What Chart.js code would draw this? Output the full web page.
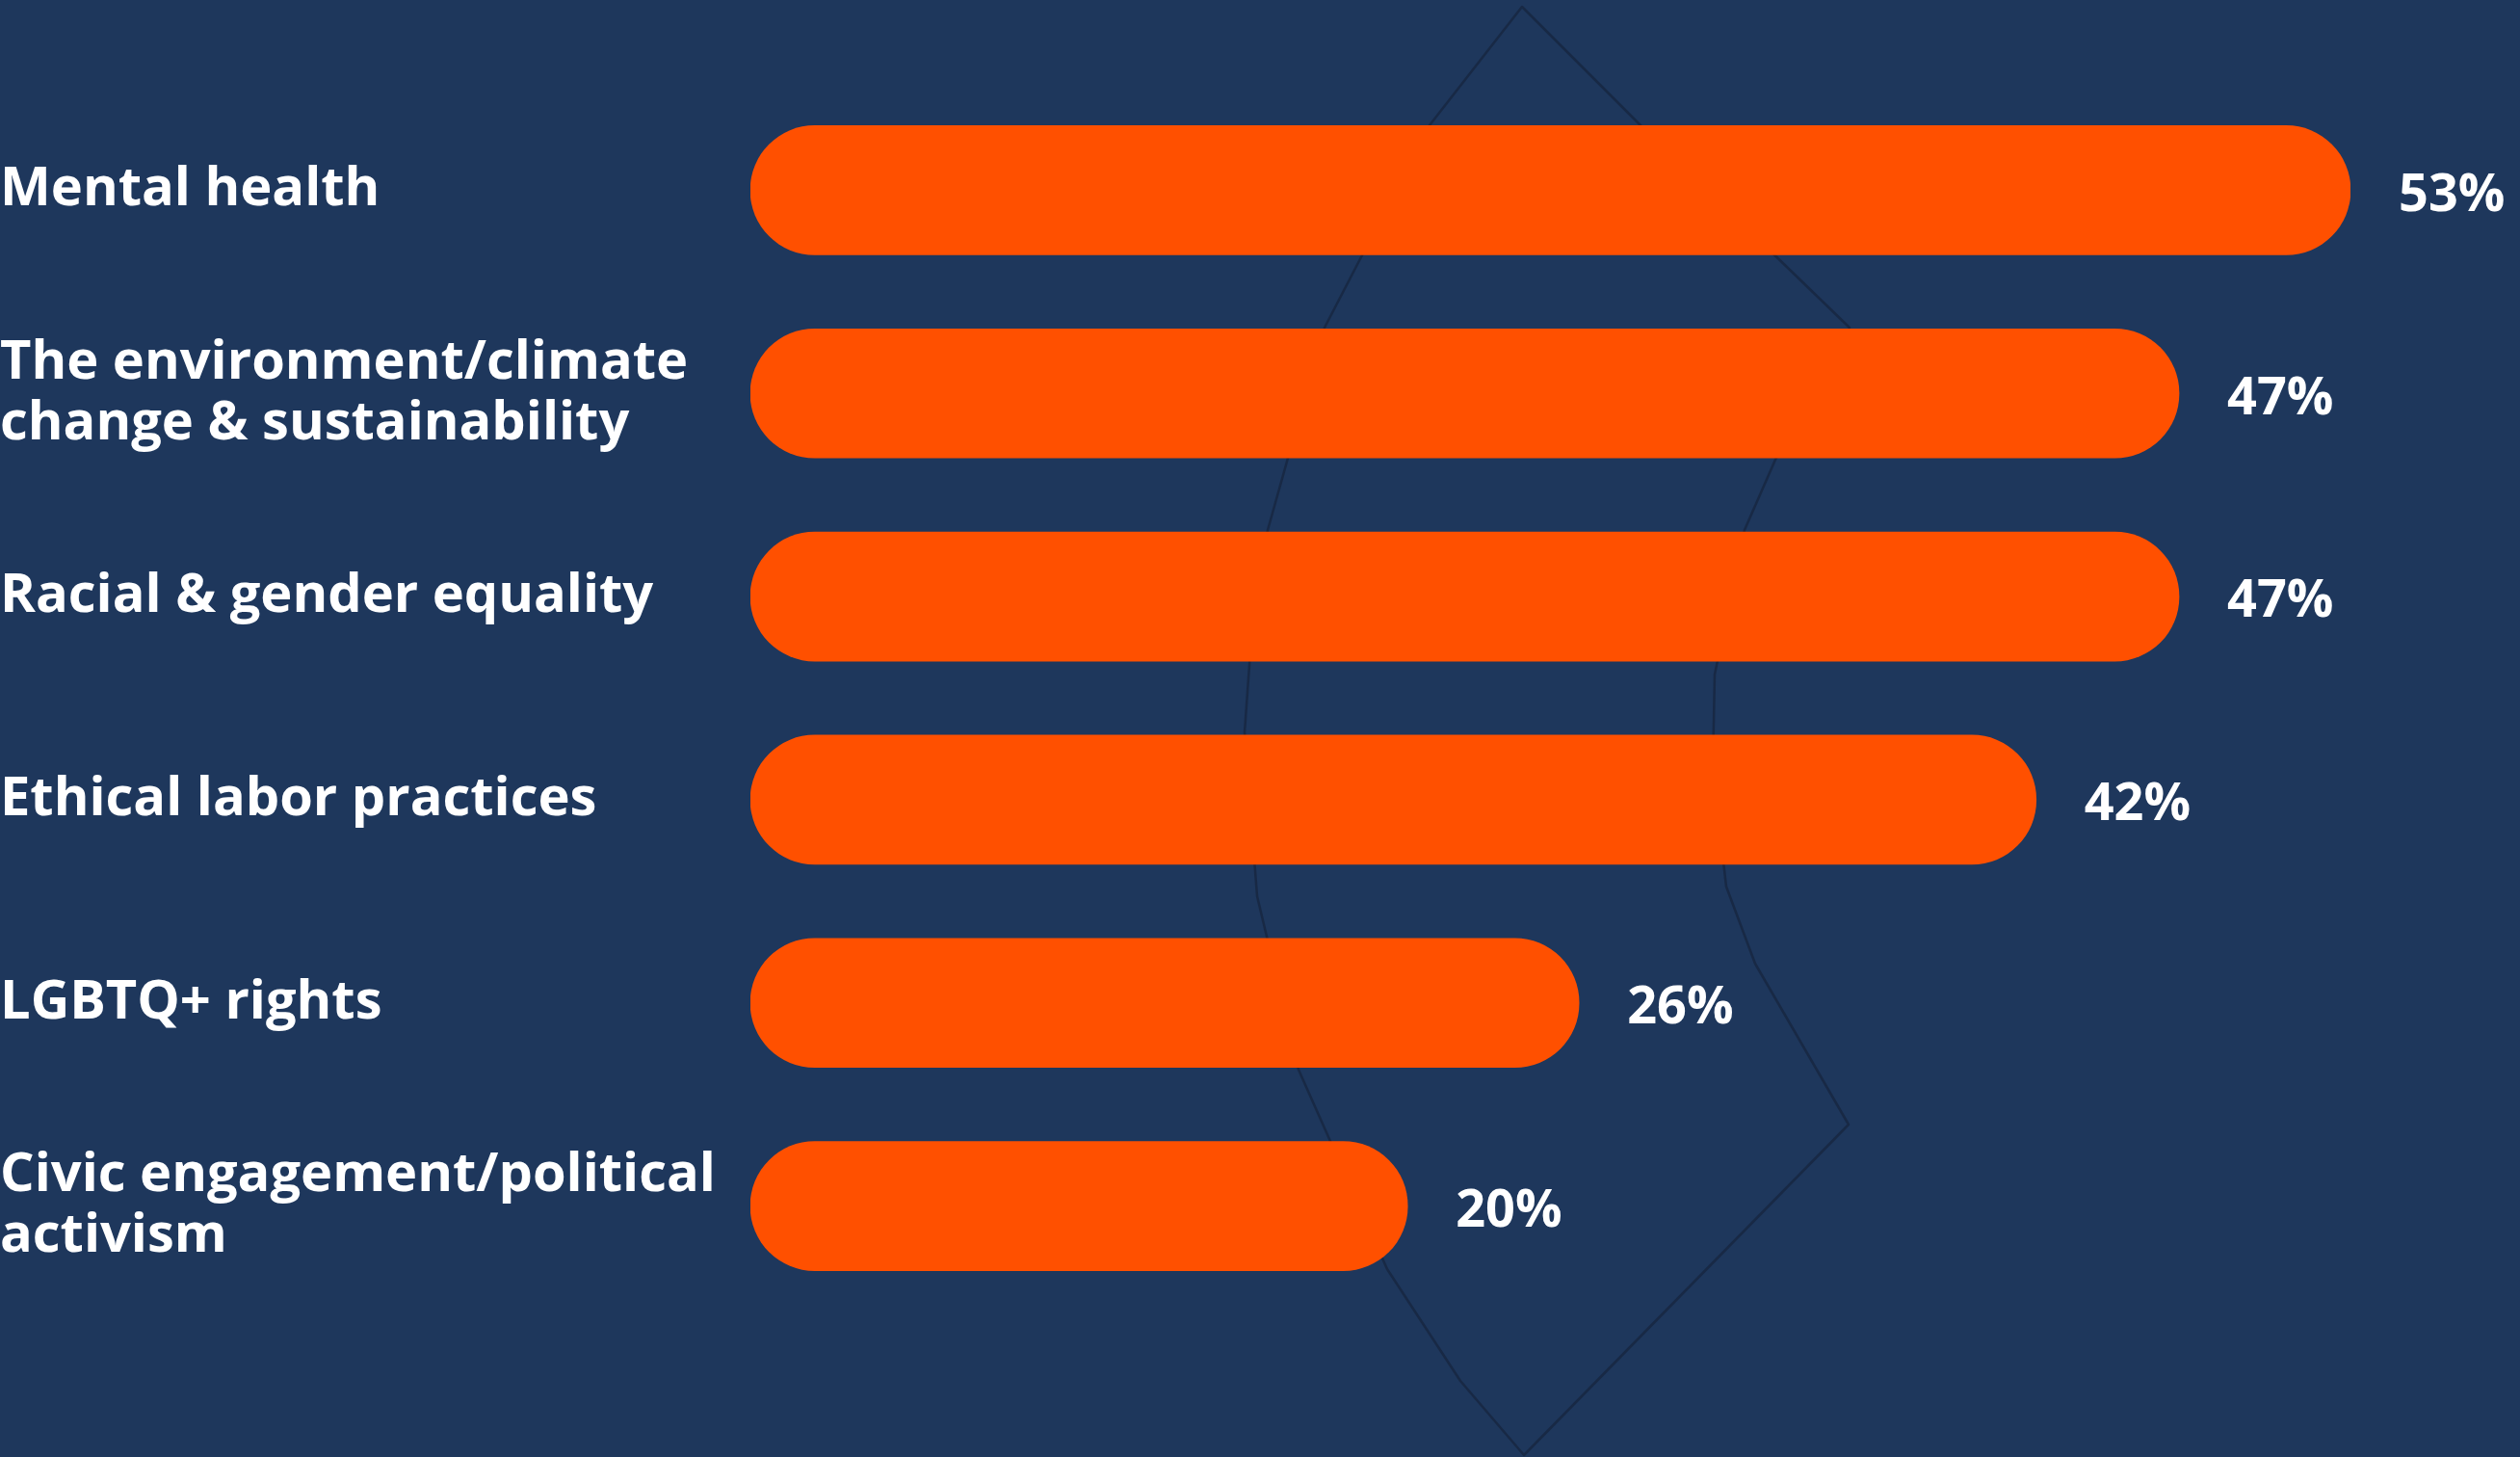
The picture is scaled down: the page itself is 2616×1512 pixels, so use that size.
<!DOCTYPE html>
<html>
<head>
<meta charset="utf-8">
<script src="https://cdn.jsdelivr.net/npm/chart.js@4.4.1/dist/chart.umd.min.js"></script>
<style>
  html,body{margin:0;padding:0;background:#1e375c;overflow:hidden;}
  canvas{display:block;}
</style>
</head>
<body>
<canvas id="chart" width="2616" height="1512"></canvas>
<script>
const categories = [
  'Mental health',
  ['The environment/climate', 'change & sustainability'],
  'Racial & gender equality',
  'Ethical labor practices',
  'LGBTQ+ rights',
  ['Civic engagement/political', 'activism']
];
const shares = [53, 47, 47, 42, 26, 20];
const axisStart = -3;
const axisEnd = 53;

const ORANGE = '#ff5000';
const FONT = '"Open Sans", sans-serif';
let chart;

// faint outline drawn behind the bars (decoration only)
const decoPath = [
  [1580,7],[1703,130],[1920,340],[1843,477],[1811,550],[1780,700],[1778,800],[1792,920],[1822,1000],[1919,1167],
  [1582,1510],[1516,1433],[1440,1317],[1348,1110],[1305,930],[1292,760],[1302,620],[1316,550],[1375,340],[1484,130]
];

const outlinePlugin = {
  id:'outline',
  beforeDatasetsDraw(chart){
    const ctx = chart.ctx;
    ctx.save();
    ctx.strokeStyle = 'rgba(22,38,64,0.8)';
    ctx.lineWidth = 2.5;
    ctx.lineJoin = 'round';
    ctx.beginPath();
    decoPath.forEach(([x,y],i)=> i ? ctx.lineTo(x,y) : ctx.moveTo(x,y));
    ctx.closePath();
    ctx.stroke();
    ctx.restore();
  }
};

const valueLabels = {
  id:'valueLabels',
  afterDatasetsDraw(chart){
    const ctx = chart.ctx;
    const meta = chart.getDatasetMeta(0);
    ctx.save();
    ctx.fillStyle = '#ffffff';
    ctx.font = `700 54px ${FONT}`;
    ctx.textAlign = 'left';
    ctx.textBaseline = 'middle';
    meta.data.forEach((bar,i)=>{
      ctx.fillText(shares[i] + '%', bar.x + 50, bar.y + 6);
    });
    ctx.restore();
  }
};

chart = new Chart(document.getElementById('chart'), {
  type:'bar',
  data:{
    labels:categories,
    datasets:[{
      data:shares,
      base:axisStart,
      backgroundColor:ORANGE,
      borderWidth:0,
      borderRadius:67,
      borderSkipped:false,
      barThickness:134
    }]
  },
  options:{
    indexAxis:'y',
    responsive:false,
    animation:false,
    layout:{padding:{top:92,bottom:155,left:0,right:176}},
    plugins:{legend:{display:false},tooltip:{enabled:false}},
    scales:{
      x:{min:axisStart,max:axisEnd,display:false,grid:{display:false}},
      y:{
        grid:{display:false,drawTicks:false},
        border:{display:false},
        afterFit(scale){ scale.width = 779; },
        ticks:{
          crossAlign:'far',
          padding:0,
          color:'#ffffff',
          font:{family:FONT,weight:'700',size:56,lineHeight:1.125}
        }
      }
    }
  },
  plugins:[outlinePlugin, valueLabels]
});
</script>
</body>
</html>
